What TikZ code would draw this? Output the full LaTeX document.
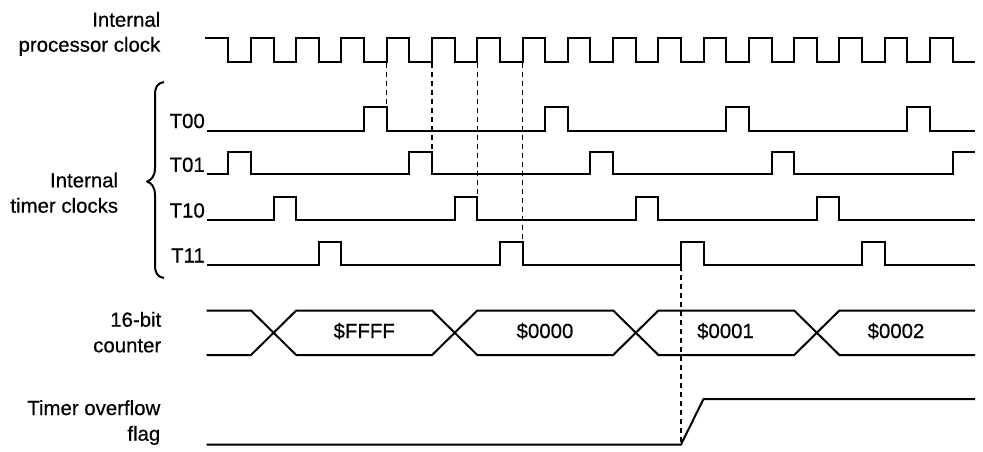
\documentclass[tikz,border=0pt]{standalone}
\usepackage{fontspec}
\setmainfont{Liberation Sans}
\newfontfamily\lblfont[FakeBold=0.4]{Liberation Sans}
\begin{document}
\begin{tikzpicture}[x=1pt,y=-1pt,
  sig/.style={line width=2pt,line join=miter},
  guide/.style={line width=1.3pt,dash pattern=on 5pt off 4pt},
  lbl/.style={inner sep=0pt,anchor=base east,font=\lblfont\fontsize{20.4}{25}\selectfont},
  val/.style={inner sep=0pt,anchor=base,font=\lblfont\fontsize{20.4}{25}\selectfont}]
\useasboundingbox (0,0) rectangle (983,451);
% labels
\node[lbl] (ipc1) at (160.5,26.7) {Internal};
\node[lbl] (ipc2) at (160.5,51.7) {processor clock};
\node[lbl] (itc1) at (118.3,187.3) {Internal};
\node[lbl] (itc2) at (118.3,212.7) {timer clocks};
\node[lbl] (cnt1) at (161.5,326.7) {16-bit};
\node[lbl] (cnt2) at (161.5,352.3) {counter};
\node[lbl] (tof1) at (160.5,415) {Timer overflow};
\node[lbl] (tof2) at (160.5,440.7) {flag};
\node[lbl] (t00) at (205,128) {T00};
\node[lbl] (t01) at (205,171.8) {T01};
\node[lbl] (t10) at (205,217.5) {T10};
\node[lbl] (t11) at (205,262.5) {T11};
% processor clock
\draw[sig] (205,38) foreach \k in {0,...,15} {
  -- ({228.3+45.27*\k},38) -- ({228.3+45.27*\k},61.5)
  -- ({250.9+45.27*\k},61.5) -- ({250.9+45.27*\k},38) }
  -- (952.6,38) -- (952.6,61.5) -- (975,61.5);
% timer clocks
\draw[sig] (206.7,130.5) foreach \k in {3,7,11,15} {
  -- ({228.3+45.27*\k},130.5) -- ({228.3+45.27*\k},107.3)
  -- ({250.9+45.27*\k},107.3) -- ({250.9+45.27*\k},130.5) } -- (975,130.5);
\draw[sig] (206.7,174.3) foreach \k in {0,4,8,12} {
  -- ({228.3+45.27*\k},174.3) -- ({228.3+45.27*\k},151.7)
  -- ({250.9+45.27*\k},151.7) -- ({250.9+45.27*\k},174.3) }
  -- (952.6,174.3) -- (952.6,151.7) -- (975,151.7);
\draw[sig] (206.7,220) foreach \k in {1,5,9,13} {
  -- ({228.3+45.27*\k},220) -- ({228.3+45.27*\k},196.7)
  -- ({250.9+45.27*\k},196.7) -- ({250.9+45.27*\k},220) } -- (975,220);
\draw[sig] (206.7,265) foreach \k in {2,6,10,14} {
  -- ({228.3+45.27*\k},265) -- ({228.3+45.27*\k},241.7)
  -- ({250.9+45.27*\k},241.7) -- ({250.9+45.27*\k},265) } -- (975,265);
% brace
\draw[sig,line join=round] (164,82) .. controls (157.5,83) and (155,87) .. (155,95)
  -- (155,168) .. controls (155,176) and (151.5,180) .. (147,181.5)
  .. controls (151.5,183) and (155,187) .. (155,195)
  -- (155,265) .. controls (155,273) and (157.5,277) .. (164,278);
% 16-bit counter
\draw[sig] (206.7,310.5) -- (251,310.5) -- (296.2,355) -- (432.1,355) -- (477.3,310.5)
  -- (613.2,310.5) -- (658.4,355) -- (794.2,355) -- (839.4,310.5) -- (975,310.5);
\draw[sig] (206.7,355) -- (251,355) -- (296.2,310.5) -- (432.1,310.5) -- (477.3,355)
  -- (613.2,355) -- (658.4,310.5) -- (794.2,310.5) -- (839.4,355) -- (975,355);
\node[val] (vffff) at (364.2,338) {\$FFFF};
\node[val] (v0000) at (545,338) {\$0000};
\node[val] (v0001) at (725.5,338) {\$0001};
\node[val] (v0002) at (896,338) {\$0002};
% overflow flag
\draw[sig] (206.7,444.5) -- (681,444.5) -- (703.5,399) -- (975,399);
% dashed guides
\coordinate (d1a) at (386.7,62.5); \coordinate (d1b) at (386.7,130.5);
\coordinate (d2a) at (432,62.5);   \coordinate (d2b) at (432,174.3);
\coordinate (d3a) at (477.3,62.5); \coordinate (d3b) at (477.3,220);
\coordinate (d4a) at (522.5,62.5); \coordinate (d4b) at (522.5,265);
\coordinate (d5a) at (681,266);    \coordinate (d5b) at (681,444.5);
\draw[guide] (d1a) -- (d1b);
\draw[guide] (d2a) -- (d2b);
\draw[guide] (d3a) -- (d3b);
\draw[guide] (d4a) -- (d4b);
\draw[guide] (d5a) -- (d5b);
\end{tikzpicture}
\end{document}
